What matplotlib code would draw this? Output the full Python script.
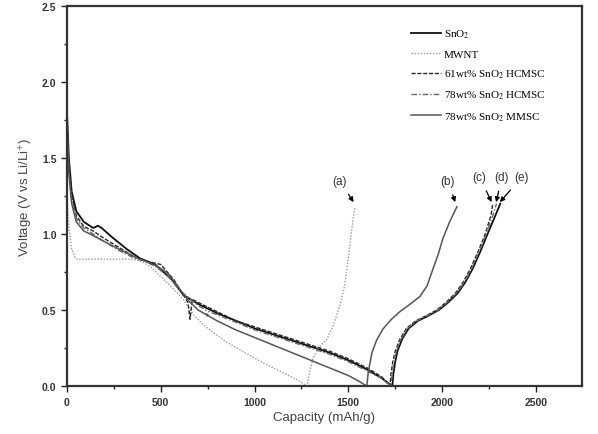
"""Galvanostatic first discharge/charge profiles, redrawn as out.png."""

import matplotlib

matplotlib.use("Agg")
import matplotlib.pyplot as plt

plt.rcParams["font.family"] = ["Liberation Sans", "DejaVu Sans"]
plt.rcParams["mathtext.fontset"] = "stix"

# --- data (capacity in mAh/g, voltage in V) ---
labels = [
    "SnO$_2$",
    "MWNT",
    "61wt% SnO$_2$ HCMSC",
    "78wt% SnO$_2$ HCMSC",
    "78wt% SnO$_2$ MMSC",
]

sno2_cap = [0, 10, 25, 50, 90, 140, 165, 185, 240, 320, 390, 470, 560, 620, 700, 800, 900,
            1000, 1100, 1200, 1300, 1400, 1500, 1600, 1680, 1735,
            1740, 1750, 1762, 1787, 1822, 1872, 1922, 1982, 2032, 2082, 2122, 2162, 2202,
            2242, 2280, 2310]
sno2_v = [1.80, 1.50, 1.28, 1.15, 1.08, 1.04, 1.055, 1.04, 0.98, 0.90, 0.84, 0.80, 0.70, 0.60,
          0.54, 0.48, 0.43, 0.38, 0.34, 0.30, 0.26, 0.22, 0.17, 0.11, 0.05, 0.0,
          0.08, 0.16, 0.23, 0.31, 0.38, 0.43, 0.46, 0.50, 0.55, 0.61, 0.68, 0.77, 0.88,
          1.00, 1.11, 1.20]

mwnt_cap = [0, 10, 25, 45, 60, 150, 250, 350, 400, 450, 500, 560, 620, 680, 750, 850, 950,
            1050, 1150, 1230, 1280,
            1295, 1311, 1340, 1386, 1420, 1455, 1480, 1498, 1515, 1535]
mwnt_v = [1.25, 1.05, 0.90, 0.84, 0.835, 0.835, 0.835, 0.835, 0.82, 0.78, 0.72, 0.65, 0.57,
          0.46, 0.38, 0.29, 0.22, 0.15, 0.09, 0.04, 0.0,
          0.10, 0.18, 0.25, 0.31, 0.40, 0.53, 0.66, 0.82, 1.00, 1.18]

h61_cap = [0, 10, 25, 50, 90, 140, 200, 280, 360, 430, 500, 570, 620, 645, 656, 668, 700, 800,
           900, 1000, 1100, 1200, 1300, 1400, 1500, 1600, 1680, 1722,
           1727, 1737, 1750, 1775, 1810, 1860, 1910, 1970, 2020, 2070, 2110, 2150, 2190,
           2230, 2262, 2270]
h61_v = [1.75, 1.45, 1.25, 1.12, 1.05, 1.02, 0.97, 0.91, 0.85, 0.82, 0.80, 0.70, 0.60, 0.55,
         0.44, 0.57, 0.55, 0.49, 0.43, 0.39, 0.35, 0.31, 0.27, 0.23, 0.18, 0.12, 0.06, 0.0,
         0.08, 0.16, 0.23, 0.31, 0.38, 0.43, 0.46, 0.50, 0.55, 0.61, 0.68, 0.77, 0.88,
         1.00, 1.13, 1.20]

h78_cap = [0, 10, 25, 50, 90, 140, 200, 280, 360, 420, 480, 540, 600, 650, 700, 740, 748, 756,
           800, 900, 1000, 1100, 1200, 1300, 1400, 1500, 1600, 1680, 1728,
           1733, 1743, 1756, 1781, 1816, 1866, 1916, 1976, 2026, 2076, 2116, 2156, 2196,
           2236, 2270, 2290]
h78_v = [1.70, 1.42, 1.22, 1.10, 1.04, 1.00, 0.95, 0.89, 0.84, 0.82, 0.78, 0.72, 0.63, 0.58,
         0.53, 0.50, 0.46, 0.49, 0.47, 0.42, 0.37, 0.33, 0.29, 0.25, 0.21, 0.16, 0.10, 0.05,
         0.0,
         0.08, 0.16, 0.23, 0.31, 0.38, 0.43, 0.46, 0.50, 0.55, 0.61, 0.68, 0.77, 0.88,
         1.00, 1.12, 1.20]

mmsc_cap = [0, 10, 25, 50, 90, 140, 200, 280, 360, 420, 480, 540, 600, 650, 700, 800, 900,
            1000, 1100, 1200, 1300, 1400, 1500, 1560, 1599,
            1605, 1615, 1626, 1650, 1684, 1730, 1775, 1830, 1882, 1920, 1951, 1980, 2004,
            2040, 2079]
mmsc_v = [1.72, 1.40, 1.20, 1.08, 1.02, 0.99, 0.95, 0.90, 0.85, 0.82, 0.79, 0.74, 0.64, 0.56,
          0.50, 0.43, 0.37, 0.32, 0.27, 0.22, 0.17, 0.12, 0.07, 0.03, 0.0,
          0.08, 0.15, 0.22, 0.30, 0.375, 0.44, 0.49, 0.54, 0.59, 0.66, 0.77, 0.87, 0.97,
          1.08, 1.18]

# annotation letters: label, text position, arrow tip
marks = ["(a)", "(b)", "(c)", "(d)", "(e)"]
mark_text = [(1455, 1.35), (2031, 1.35), (2200, 1.375), (2319, 1.375), (2425, 1.375)]
mark_tip = [(1528, 1.21), (2070, 1.21), (2264, 1.21), (2288, 1.21), (2308, 1.21)]

series = [
    (sno2_cap, sno2_v, dict(color="#111111", lw=1.3, ls="-")),
    (mwnt_cap, mwnt_v, dict(color="#9a9a9a", lw=1.0, ls=(0, (1, 1.2)))),
    (h61_cap, h61_v, dict(color="#2a2a2a", lw=1.0, ls=(0, (3, 1.2)))),
    (h78_cap, h78_v, dict(color="#6a6a6a", lw=1.0, ls=(0, (4, 1.5, 1, 1.5)))),
    (mmsc_cap, mmsc_v, dict(color="#555555", lw=1.1, ls="-")),
]

fig = plt.figure(figsize=(5.98, 4.35), dpi=100)
ax = fig.add_axes([0.112, 0.110, 0.861, 0.874])

for (cap, volt, style), label in zip(series, labels):
    ax.plot(cap, volt, label=label, **style)

for text, xy_text, xy_tip in zip(marks, mark_text, mark_tip):
    ax.annotate(text, xy=xy_tip, xytext=xy_text, fontsize=8.5, color="#333333",
                ha="center", va="center",
                arrowprops=dict(arrowstyle="-|>", color="black", lw=0.9,
                                mutation_scale=7, shrinkA=4, shrinkB=0))

ax.set_xlim(0, 2745)
ax.set_ylim(0, 2.5)
ax.set_xticks([0, 500, 1000, 1500, 2000, 2500])
ax.set_xticks([250, 750, 1250, 1750, 2250], minor=True)
ax.set_yticks([0.0, 0.5, 1.0, 1.5, 2.0, 2.5])
ax.set_yticks([0.25, 0.75, 1.25, 1.75, 2.25], minor=True)
ax.set_yticklabels(["0.0", "0.5", "1.0", "1.5", "2.0", "2.5"])

ax.tick_params(which="both", direction="out", top=False, right=False,
               labelsize=7.5, width=1.0, color="#222222")
ax.tick_params(which="major", length=4)
ax.tick_params(which="minor", length=2.5)
for tick in ax.get_xticklabels() + ax.get_yticklabels():
    tick.set_fontweight("bold")
    tick.set_color("#333333")
for spine in ax.spines.values():
    spine.set_linewidth(1.6)
    spine.set_color("#333333")

ax.set_xlabel("Capacity (mAh/g)", fontsize=9.5, color="#444444", labelpad=3)
ax.set_ylabel("Voltage (V vs Li/Li$^{+}$)", fontsize=9.5, color="#444444", labelpad=6)

leg = ax.legend(loc="upper left", bbox_to_anchor=(0.66, 0.955), frameon=False,
                prop={"family": "Liberation Serif", "size": 8},
                handlelength=2.7, handletextpad=0.25, labelspacing=0.8,
                borderaxespad=0)

fig.savefig("out.png", dpi=100)
